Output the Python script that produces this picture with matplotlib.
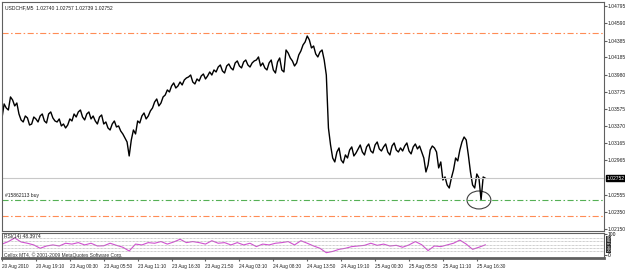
import matplotlib
matplotlib.use("Agg")
import matplotlib.pyplot as plt
from matplotlib.patches import Ellipse
import matplotlib.transforms as mtransforms

plt.rcParams['font.family'] = ['Liberation Sans', 'DejaVu Sans']

# === Data (USDCHF M5, one point every 4 bars) ===
price_step = 4
price = [
    1.03467, 1.03633, 1.03585, 1.03561, 1.03716, 1.03680, 1.03609, 1.03644, 1.03514, 1.03443,
    1.03419, 1.03490, 1.03467, 1.03383, 1.03395, 1.03478, 1.03455, 1.03419, 1.03490, 1.03514,
    1.03431, 1.03407, 1.03514, 1.03538, 1.03467, 1.03431, 1.03419, 1.03455, 1.03372, 1.03395,
    1.03348, 1.03383, 1.03455, 1.03431, 1.03514, 1.03478, 1.03538, 1.03561, 1.03478, 1.03443,
    1.03514, 1.03538, 1.03455, 1.03490, 1.03431, 1.03395, 1.03478, 1.03502, 1.03395, 1.03419,
    1.03348, 1.03324, 1.03395, 1.03431, 1.03360, 1.03372, 1.03312, 1.03277, 1.03229, 1.03182,
    1.03016, 1.03206, 1.03324, 1.03277, 1.03431, 1.03407, 1.03490, 1.03526, 1.03455, 1.03490,
    1.03550, 1.03585, 1.03656, 1.03692, 1.03609, 1.03644, 1.03716, 1.03739, 1.03799, 1.03775,
    1.03846, 1.03882, 1.03822, 1.03846, 1.03893, 1.03858, 1.03917, 1.03941, 1.03953, 1.03976,
    1.03893, 1.03870, 1.03929, 1.03905, 1.03965, 1.03988, 1.03929, 1.03965, 1.04012, 1.03976,
    1.04036, 1.04012, 1.04071, 1.04095, 1.04024, 1.04000, 1.04083, 1.04107, 1.04060, 1.04036,
    1.04119, 1.04143, 1.04083, 1.04060, 1.04131, 1.04154, 1.04095, 1.04071, 1.04119, 1.04143,
    1.04154, 1.04190, 1.04083, 1.04119, 1.04060, 1.04036, 1.04119, 1.04154, 1.04036, 1.04000,
    1.04131, 1.04178, 1.04036, 1.04012, 1.04273, 1.04237, 1.04178, 1.04143, 1.04083, 1.04119,
    1.04214, 1.04261, 1.04332, 1.04368, 1.04439, 1.04392, 1.04297, 1.04320, 1.04226, 1.04190,
    1.04249, 1.04273, 1.04154, 1.03976, 1.03348, 1.03146, 1.02992, 1.02945, 1.03063, 1.03111,
    1.02968, 1.02933, 1.03028, 1.02992, 1.03087, 1.03123, 1.03016, 1.03051, 1.03099, 1.03146,
    1.03063, 1.03028, 1.03123, 1.03158, 1.03075, 1.03051, 1.03146, 1.03182, 1.03099, 1.03075,
    1.03123, 1.03158, 1.03063, 1.03028, 1.03134, 1.03170, 1.03087, 1.03063, 1.03111, 1.03075,
    1.03134, 1.03170, 1.03075, 1.03040, 1.03123, 1.03158, 1.03099, 1.03134, 1.03063, 1.02992,
    1.02826, 1.02909, 1.03087, 1.03134, 1.03111, 1.03063, 1.02874, 1.02945, 1.02731, 1.02767,
    1.02672, 1.02636, 1.02755, 1.02850, 1.02992, 1.02957, 1.03087, 1.03182, 1.03241, 1.03206,
    1.03028, 1.02826, 1.02672, 1.02636, 1.02802, 1.02755, 1.02494, 1.02767, 1.02752,
]

# RSI(14), one point every 12 bars
rsi_step = 12
rsi = [
    52, 64, 81, 62, 56, 48, 32, 43, 48, 43, 56, 52, 59, 48, 56, 43, 44, 56, 46, 37,
    19, 52, 48, 59, 56, 64, 52, 62, 75, 59, 64, 59, 52, 68, 56, 59, 48, 59, 48, 56,
    40, 52, 48, 56, 59, 64, 48, 68, 56, 43, 32, 11, 17, 27, 32, 40, 43, 46, 56, 46,
    52, 43, 46, 37, 48, 64, 49, 21, 43, 40, 48, 56, 71, 52, 27, 37, 48.4,
]

price_ticks = [1.04795, 1.04590, 1.04385, 1.04185, 1.03980, 1.03775, 1.03575, 1.03370,
               1.03165, 1.02965, 1.02555, 1.02350, 1.02150]
time_labels = ["20 Aug 2010", "20 Aug 19:10", "23 Aug 00:30", "23 Aug 05:50", "23 Aug 11:10",
               "23 Aug 16:30", "23 Aug 21:50", "24 Aug 03:10", "24 Aug 08:30", "24 Aug 13:50",
               "24 Aug 19:10", "25 Aug 00:30", "25 Aug 05:50", "25 Aug 11:10", "25 Aug 16:30"]
time_step = 64

take_profit = 1.04475
open_price = 1.02494
stop_loss = 1.02305
bid = 1.02752
rsi_levels = [80, 65, 50, 35, 20]

price_x = [i * price_step for i in range(len(price))]
rsi_x = [i * rsi_step for i in range(len(rsi))]

# === Figure layout ===
fig = plt.figure(figsize=(6.25, 2.72), dpi=100)
fig.patch.set_facecolor("white")
ax = fig.add_axes([2 / 625, 1 - 231 / 272, 602 / 625, 229 / 272])
rax = fig.add_axes([2 / 625, 1 - 258 / 272, 602 / 625, 25 / 272])

frame = "#606060"
dashdot = (0, (5.5, 2.2, 1.4, 2.2))

# === Main price panel ===
ax.plot(price_x, price, color="black", lw=1.0)
ax.axhline(take_profit, color="#FF8C55", ls=dashdot, lw=0.8)
ax.axhline(open_price, color="#55B055", ls=dashdot, lw=0.8)
ax.axhline(stop_loss, color="#FF8C55", ls=dashdot, lw=0.8)
ax.axhline(bid, color="#C8C8C8", lw=0.8)
ax.text(5, open_price + 0.00025, "#15862113 buy", fontsize=3.6, color="#202020", va="bottom")
ax.add_patch(Ellipse((900, open_price), 45, 0.00213, fill=False, ec="#404040", lw=0.8))

ax.set_xlim(0, 1136)
ax.set_ylim(1.02126, 1.04842)
ax.set_xticks([])
ax.yaxis.tick_right()
ax.set_yticks(price_ticks)
ax.set_yticklabels([f"{v:.5f}" for v in price_ticks])
ax.tick_params(axis="y", labelsize=3.6, length=2, pad=0.5, color=frame, labelcolor="#202020")
for s in ax.spines.values():
    s.set_color(frame)
    s.set_linewidth(0.8)

ax.text(0.005, 0.985, "USDCHF,M5  1.02740 1.02757 1.02739 1.02752", transform=ax.transAxes,
        fontsize=3.6, color="#202020", va="top")
trans = mtransforms.blended_transform_factory(ax.transAxes, ax.transData)
ax.text(1.004, bid, "1.02752", transform=trans, fontsize=3.6, color="white", va="center",
        bbox=dict(boxstyle="square,pad=0.15", fc="black", ec="black"))

# === RSI panel ===
rax.plot(rsi_x, rsi, color="#D050D0", lw=0.8)
for lv in rsi_levels:
    rax.axhline(lv, color="#A0A0A0", ls=(0, (1, 1)), lw=0.5)
rax.set_xlim(0, 1136)
rax.set_ylim(-14.3, 104.8)
rax.yaxis.tick_right()
rax.set_yticks([100, 0])
rax.set_yticklabels(["100", "0"])
rax.tick_params(axis="y", labelsize=3.6, length=2, pad=0.5, color=frame)
rax.set_xticks([i * time_step for i in range(len(time_labels))])
rax.set_xticklabels(time_labels)
rax.tick_params(axis="x", labelsize=3.4, length=2, pad=2.5, color=frame, labelcolor="#202020")
for lbl in rax.get_xticklabels():
    lbl.set_ha("left")
for s in rax.spines.values():
    s.set_color(frame)
    s.set_linewidth(0.8)
rax.spines["bottom"].set_linewidth(2)
rax.text(0.003, 0.97, "RSI(14) 48.3974", transform=rax.transAxes, fontsize=3.6,
         color="#202020", va="top")
rax.text(0.003, 0.02, "Cellox MT4, \u00a9 2001-2009 MetaQuotes Software Corp.",
         transform=rax.transAxes, fontsize=3.5, color="#303030", va="bottom")
trans_r = mtransforms.blended_transform_factory(rax.transAxes, rax.transData)
for lv in rsi_levels:
    rax.text(1.004, lv, f"{lv}", transform=trans_r, fontsize=3.0, color="white",
             va="center", bbox=dict(boxstyle="square,pad=0.05", fc="#303030", ec="none"))

fig.savefig("out.png", dpi=100)
